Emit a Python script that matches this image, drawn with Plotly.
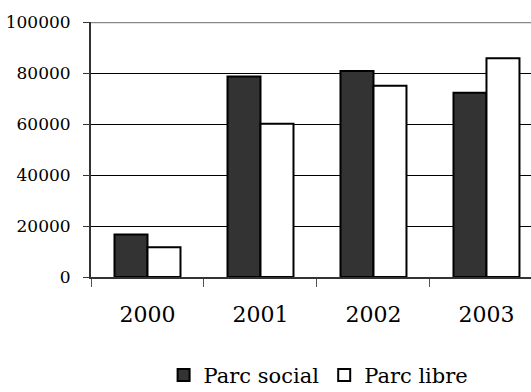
import plotly.graph_objects as go

# Housing starts by year, split between social and private stock
years = ["2000", "2001", "2002", "2003"]
parc_social = [16700, 78600, 80800, 72300]
parc_libre = [11700, 60100, 75000, 85800]
y_ticks = [0, 20000, 40000, 60000, 80000, 100000]

serif = "DejaVu Serif"

fig = go.Figure()
fig.add_trace(go.Bar(
    name="Parc social", x=years, y=parc_social,
    marker=dict(color="#333333", line=dict(color="black", width=2)),
))
fig.add_trace(go.Bar(
    name="Parc libre", x=years, y=parc_libre,
    marker=dict(color="white", line=dict(color="black", width=2)),
))

# frame line along the top of the plotting area
fig.add_shape(type="line", xref="paper", yref="y", x0=0, x1=1,
              y0=y_ticks[-1], y1=y_ticks[-1],
              line=dict(color="#888888", width=2.5), layer="above")

fig.update_layout(
    width=531, height=392,
    margin=dict(l=91, r=0, t=22, b=115),
    paper_bgcolor="white", plot_bgcolor="white",
    barmode="group", bargap=0.416, bargroupgap=0,
    font=dict(family=serif, color="black"),
    showlegend=True,
    legend=dict(
        orientation="h", xref="container", yref="container",
        x=0.6, xanchor="center", y=0.095, yanchor="top",
        font=dict(size=21, family=serif), itemclick=False,
        traceorder="normal", tracegroupgap=0,
    ),
    xaxis=dict(
        type="category", range=[-0.5, 3.394],
        showline=True, linecolor="#333333", linewidth=2,
        ticks="outside", tickson="boundaries", ticklen=8,
        tickcolor="#555555", tickwidth=1, ticklabelstandoff=17,
        tickfont=dict(size=22, family=serif, color="black"),
        showgrid=False, zeroline=False,
    ),
    yaxis=dict(
        range=[0, 100000], tickvals=y_ticks,
        ticktext=[str(v) for v in y_ticks],
        showline=True, linecolor="#333333", linewidth=2,
        ticks="outside", ticklen=6, tickcolor="#333333", tickwidth=1,
        ticklabelstandoff=9,
        tickfont=dict(size=17, family=serif, color="black"),
        showgrid=True, gridcolor="black", gridwidth=1,
        zeroline=False,
    ),
)

fig.write_html("out.html")
